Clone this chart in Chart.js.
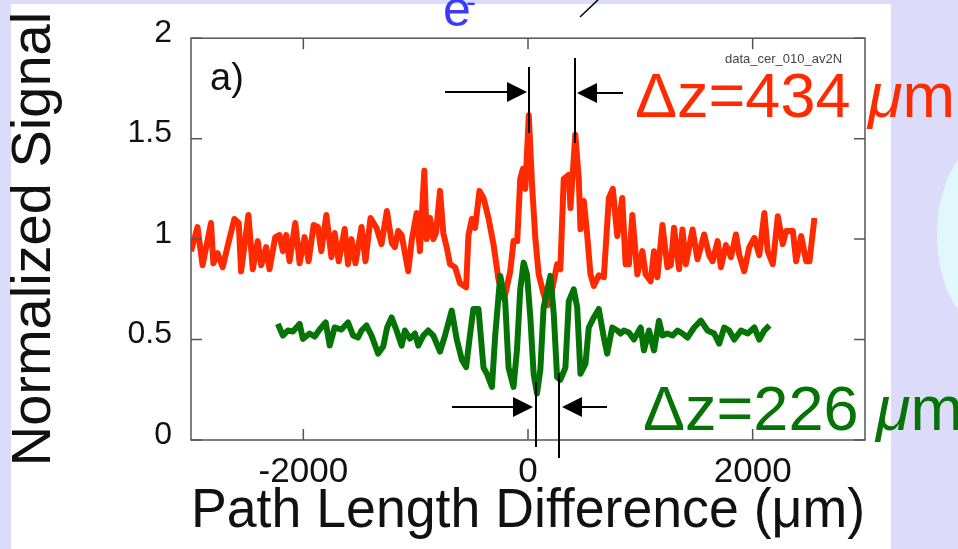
<!DOCTYPE html>
<html>
<head>
<meta charset="utf-8">
<script src="https://cdn.jsdelivr.net/npm/chart.js@4.4.0/dist/chart.umd.min.js"></script>
<style>
html, body { margin: 0; padding: 0; background: #dcdcfa; }
canvas { display: block; }
</style>
</head>
<body>
<canvas id="chart" width="958" height="549"></canvas>
<script>
// Path length difference (um) vs normalized signal
const redX = [
  -3000, -2942, -2897, -2822, -2801, -2763, -2718, -2674, -2614, -2575,
  -2554, -2489, -2450, -2406, -2375, -2331, -2301, -2250, -2212, -2182,
  -2152, -2123, -2072, -2033, -1989, -1953, -1908, -1870, -1840, -1795,
  -1750, -1721, -1685, -1632, -1602, -1572, -1536, -1482, -1447, -1402,
  -1348, -1304, -1256, -1212, -1185, -1156, -1125, -1066, -1036, -991,
  -962, -947, -923, -902, -872, -843, -819, -783, -754, -723,
  -694, -649, -605, -551, -530, -500, -471, -432, -396, -352,
  -307, -263, -212, -158, -129, -96, -69, -45, -24, 7,
  36, 65, 95, 139, 172, 199, 229, 259, 288, 318,
  363, 378, 421, 452, 467, 497, 527, 556, 586, 630,
  675, 720, 755, 795, 839, 869, 898, 929, 973, 1018,
  1047, 1092, 1122, 1152, 1197, 1241, 1271, 1300, 1345, 1375,
  1405, 1465, 1509, 1568, 1613, 1643, 1688, 1717, 1762, 1807,
  1851, 1881, 1925, 1970, 2015, 2059, 2104, 2134, 2179, 2224,
  2268, 2298, 2358, 2387, 2432, 2476, 2506, 2550
];
const redY = [
  0.94, 1.06, 0.87, 1.08, 0.88, 0.93, 0.86, 0.965, 1.10, 1.08,
  0.84, 1.12, 0.85, 0.99, 0.87, 0.96, 0.85, 1.01, 1.02, 0.94,
  1.02, 0.89, 1.08, 0.88, 1.01, 0.89, 1.07, 1.06, 0.94, 1.12,
  0.91, 1.03, 0.89, 1.05, 0.875, 1.00, 0.88, 1.06, 0.89, 1.105,
  1.055, 0.975, 1.14, 0.98, 0.96, 1.04, 1.02, 0.84, 0.99, 1.13,
  0.94, 1.10, 1.34, 1.00, 1.105, 1.00, 1.03, 1.24, 1.03, 0.957,
  0.875, 0.86, 0.78, 0.76, 1.02, 1.10, 1.056, 1.24, 1.205, 1.105,
  0.974, 0.80, 0.70, 0.84, 0.99, 0.99, 1.30, 1.35, 1.25, 1.617,
  1.27, 1.006, 0.825, 0.726, 0.67, 0.70, 0.79, 0.875, 0.85, 1.30,
  1.32, 1.155, 1.52, 1.30, 1.05, 1.19, 1.02, 0.825, 0.767, 0.82,
  0.81, 1.205, 1.25, 1.015, 1.205, 0.875, 0.875, 1.12, 0.825, 0.94,
  0.825, 0.79, 0.94, 0.81, 1.07, 0.86, 0.87, 1.056, 0.85, 1.048,
  0.875, 1.048, 0.90, 1.023, 0.92, 0.89, 0.99, 0.86, 0.97, 0.91,
  1.023, 0.92, 0.84, 0.96, 1.006, 0.92, 1.13, 0.94, 0.875, 1.114,
  0.975, 1.04, 1.04, 0.89, 1.015, 0.89, 0.89, 1.105
];
const greenX = [
  -2227, -2182, -2138, -2093, -2033, -2004, -1944, -1899, -1855, -1801,
  -1765, -1721, -1661, -1602, -1557, -1513, -1482, -1438, -1393, -1334,
  -1289, -1254, -1214, -1170, -1125, -1096, -1051, -1006, -977, -932,
  -888, -843, -783, -739, -679, -634, -589, -551, -515, -486,
  -441, -396, -366, -321, -292, -247, -203, -173, -129, -98,
  -69, -39, -9, 21, 50, 80, 110, 139, 199, 229,
  259, 288, 333, 363, 407, 438, 467, 512, 541, 586,
  630, 675, 705, 750, 795, 824, 854, 898, 943, 1003,
  1032, 1077, 1122, 1166, 1197, 1241, 1286, 1331, 1375, 1420,
  1479, 1539, 1598, 1657, 1702, 1747, 1791, 1836, 1896, 1956,
  2015, 2059, 2104, 2149
];
const greenY = [
  0.578, 0.52, 0.545, 0.54, 0.578, 0.503, 0.53, 0.515, 0.55, 0.585,
  0.47, 0.56, 0.55, 0.585, 0.52, 0.51, 0.545, 0.57, 0.52, 0.43,
  0.465, 0.56, 0.61, 0.545, 0.47, 0.545, 0.505, 0.53, 0.47, 0.52,
  0.545, 0.52, 0.44, 0.52, 0.644, 0.50, 0.40, 0.363, 0.53, 0.652,
  0.652, 0.36, 0.33, 0.264, 0.52, 0.817, 0.69, 0.36, 0.264, 0.45,
  0.75, 0.883, 0.825, 0.61, 0.33, 0.231, 0.35, 0.66, 0.817, 0.63,
  0.313, 0.30, 0.36, 0.69, 0.75, 0.66, 0.33, 0.38, 0.56, 0.61,
  0.652, 0.51, 0.43, 0.56, 0.545, 0.53, 0.545, 0.535, 0.50, 0.56,
  0.446, 0.545, 0.446, 0.594, 0.52, 0.53, 0.52, 0.545, 0.53, 0.51,
  0.56, 0.594, 0.545, 0.53, 0.48, 0.56, 0.545, 0.50, 0.545, 0.53,
  0.56, 0.50, 0.545, 0.57
];
const xTicks = [-2000, 0, 2000];
const yTicks = [0, 0.5, 1, 1.5, 2];

const FONT = '"Liberation Sans", Arial, Helvetica, sans-serif';

// arrow from x0 to tip x1 at height y
function arrow(ctx, x0, x1, y) {
    const dir = Math.sign(x1 - x0);
    ctx.beginPath();
    ctx.moveTo(x0, y);
    ctx.lineTo(x1 - dir * 16, y);
    ctx.stroke();
    ctx.beginPath();
    ctx.moveTo(x1, y);
    ctx.lineTo(x1 - dir * 20, y - 10);
    ctx.lineTo(x1 - dir * 20, y + 10);
    ctx.closePath();
    ctx.fill();
}

function vline(ctx, x, y0, y1) {
    ctx.beginPath();
    ctx.moveTo(x, y0);
    ctx.lineTo(x, y1);
    ctx.stroke();
}

// "Δz=... μm" with italic mu
function deltaLabel(ctx, x, y, num, color) {
    ctx.fillStyle = color;
    ctx.font = '63px ' + FONT;
    const head = 'Δz=' + num + ' ';
    ctx.fillText(head, x, y);
    let cx = x + ctx.measureText(head).width;
    ctx.font = 'italic 63px ' + FONT;
    ctx.fillText('μ', cx, y);
    cx += ctx.measureText('μ').width;
    ctx.font = '63px ' + FONT;
    ctx.fillText('m', cx, y);
}

const decor = {
    id: 'decor',
    beforeDraw(chart) {
        const ctx = chart.ctx;
        ctx.save();
        ctx.fillStyle = '#dcdcfa';
        ctx.fillRect(0, 0, chart.width, chart.height);
        ctx.fillStyle = '#e0f8fc';
        ctx.beginPath();
        ctx.ellipse(992, 235, 55, 95, 0, 0, Math.PI * 2);
        ctx.fill();
        ctx.fillStyle = '#ffffff';
        ctx.fillRect(11, 4, 880, 545);
        ctx.restore();
    },
    afterDatasetsDraw(chart) {
        const ctx = chart.ctx;
        const a = chart.chartArea;
        const sx = chart.scales.x, sy = chart.scales.y;
        ctx.save();
        ctx.strokeStyle = '#555';
        ctx.lineWidth = 1.5;
        ctx.strokeRect(a.left, a.top, a.right - a.left, a.bottom - a.top);
        ctx.beginPath();
        xTicks.forEach(v => {
            const px = sx.getPixelForValue(v);
            ctx.moveTo(px, a.bottom); ctx.lineTo(px, a.bottom - 11);
            ctx.moveTo(px, a.top); ctx.lineTo(px, a.top + 11);
        });
        yTicks.forEach(v => {
            const py = sy.getPixelForValue(v);
            ctx.moveTo(a.left, py); ctx.lineTo(a.left + 11, py);
            ctx.moveTo(a.right, py); ctx.lineTo(a.right - 11, py);
        });
        ctx.stroke();
        ctx.restore();
    },
    afterDraw(chart) {
        const ctx = chart.ctx;
        ctx.save();
        ctx.textBaseline = 'alphabetic';
        ctx.textAlign = 'left';

        ctx.fillStyle = '#111';
        ctx.font = '38px ' + FONT;
        ctx.fillText('a)', 210, 90);

        ctx.fillStyle = '#444';
        ctx.font = '13px ' + FONT;
        ctx.fillText('data_cer_010_av2N', 725, 63);

        // beam label at the top
        ctx.fillStyle = '#3a3aff';
        ctx.font = '50px ' + FONT;
        ctx.fillText('e', 443, 26);
        ctx.font = '30px ' + FONT;
        ctx.fillText('-', 466, 12);

        ctx.strokeStyle = '#000';
        ctx.fillStyle = '#000';
        ctx.lineWidth = 1.5;
        ctx.beginPath();
        ctx.moveTo(580, 17);
        ctx.lineTo(601, -3);
        ctx.stroke();

        // red peak spacing
        ctx.lineWidth = 2;
        vline(ctx, 529, 67, 133);
        vline(ctx, 575, 58, 143);
        arrow(ctx, 445, 527, 92);
        arrow(ctx, 623, 577, 93);

        // green fringe spacing
        vline(ctx, 536, 382, 447);
        vline(ctx, 559, 373, 458);
        arrow(ctx, 452, 533, 407);
        arrow(ctx, 607, 562, 407);

        deltaLabel(ctx, 635, 117, '434', '#ff2a00');
        deltaLabel(ctx, 643, 430, '226', '#067306');
        ctx.restore();
    }
};

new Chart(document.getElementById('chart'), {
    type: 'line',
    data: {
        datasets: [
            {
                label: 'red',
                data: redX.map((x, i) => ({ x: x, y: redY[i] })),
                borderColor: '#ff2a00',
                borderWidth: 6,
                borderJoinStyle: 'round',
                pointRadius: 0,
                tension: 0,
                order: 1
            },
            {
                label: 'green',
                data: greenX.map((x, i) => ({ x: x, y: greenY[i] })),
                borderColor: '#067306',
                borderWidth: 6,
                borderJoinStyle: 'round',
                pointRadius: 0,
                tension: 0,
                order: 0
            }
        ]
    },
    options: {
        responsive: false,
        animation: false,
        devicePixelRatio: 1,
        layout: { padding: { left: 0, top: 36, right: 93, bottom: 0 } },
        plugins: { legend: { display: false }, tooltip: { enabled: false } },
        scales: {
            x: {
                type: 'linear',
                min: -3000,
                max: 3000,
                afterFit: s => { s.height = 109; },
                afterBuildTicks: s => { s.ticks = xTicks.map(v => ({ value: v })); },
                grid: { display: false, drawTicks: false },
                border: { display: false },
                ticks: {
                    callback: v => String(v),
                    font: { family: FONT, size: 35 },
                    color: '#111',
                    padding: 11,
                    maxRotation: 0,
                    autoSkip: false
                },
                title: {
                    display: true,
                    text: 'Path Length Difference (μm)',
                    font: { family: FONT, size: 55, lineHeight: 1 },
                    color: '#111',
                    padding: { top: 0, bottom: 10 }
                }
            },
            y: {
                min: 0,
                max: 2,
                afterFit: s => { s.width = 191; },
                afterBuildTicks: s => { s.ticks = yTicks.map(v => ({ value: v })); },
                grid: { display: false, drawTicks: false },
                border: { display: false },
                ticks: {
                    callback: v => String(v),
                    font: { family: FONT, size: 32 },
                    color: '#111',
                    padding: 19,
                    labelOffset: -5
                },
                title: {
                    display: true,
                    text: 'Normalized Signal',
                    font: { family: FONT, size: 56, lineHeight: 1 },
                    color: '#111',
                    padding: { top: 7, bottom: 0 }
                }
            }
        }
    },
    plugins: [decor]
});
</script>
</body>
</html>
